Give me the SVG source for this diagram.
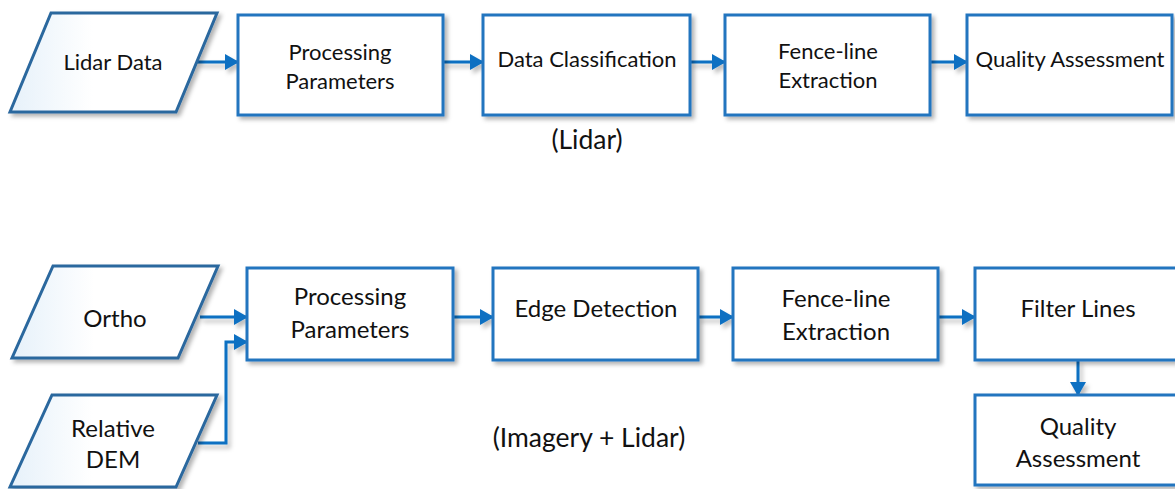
<svg xmlns="http://www.w3.org/2000/svg" width="1175" height="489" viewBox="0 0 1175 489">
  <style>
    .box { fill: #ffffff; stroke: #2474bf; stroke-width: 3; filter: url(#shadow); }
    .data { fill: url(#dataFill); stroke: #2b679e; stroke-width: 3; filter: url(#shadow); }
    .t { font-family: Lato, "Open Sans", sans-serif; fill: #111111; text-anchor: middle; }
    .s { font-size: 22px; }
    .m { font-size: 24px; }
    .lbl { font-size: 26.5px; }
    .conn { fill: none; stroke: #0b6fc2; stroke-width: 3; marker-end: url(#arrow); filter: url(#lineShadow); }
  </style>
  <defs>
    <linearGradient id="dataFill" x1="0" y1="0" x2="1" y2="0">
      <stop offset="0" stop-color="#e6f1fa"/>
      <stop offset="0.4" stop-color="#ffffff"/>
      <stop offset="1" stop-color="#ffffff"/>
    </linearGradient>
    <filter id="shadow" x="-10%" y="-10%" width="125%" height="130%">
      <feDropShadow dx="3" dy="3" stdDeviation="2" flood-color="#000000" flood-opacity="0.3"/>
    </filter>
    <!-- user-space region so that straight (zero-height) lines keep their shadow -->
    <filter id="lineShadow" filterUnits="userSpaceOnUse" x="0" y="0" width="1175" height="489">
      <feDropShadow dx="3" dy="4" stdDeviation="2" flood-color="#000000" flood-opacity="0.25"/>
    </filter>
    <marker id="arrow" markerUnits="userSpaceOnUse" markerWidth="14" markerHeight="16" refX="13" refY="8" orient="auto">
      <path d="M0,0 L14,8 L0,16 z" fill="#0b6fc2"/>
    </marker>
  </defs>

  <!-- Connectors -->
  <g id="connectors">
    <path class="conn" d="M197,62 H238"/>
    <path class="conn" d="M443,62 H483"/>
    <path class="conn" d="M690,62 H725"/>
    <path class="conn" d="M930,62 H967"/>
    <path class="conn" d="M200,317 H247"/>
    <path class="conn" d="M198,443 H226 V342 H247"/>
    <path class="conn" d="M453,317 H493"/>
    <path class="conn" d="M698,317 H733"/>
    <path class="conn" d="M938,317 H975"/>
    <path class="conn" d="M1078,360 V395"/>
  </g>

  <!-- Lidar workflow -->
  <g id="lidar-data">
    <polygon class="data" points="51,13 217,13 176,112 10,112"/>
    <text class="t s" x="113" y="70">Lidar Data</text>
  </g>
  <g id="lidar-processing">
    <rect class="box" x="238" y="15" width="205" height="100"/>
    <text class="t s" x="340" y="60">Processing</text>
    <text class="t s" x="340" y="89">Parameters</text>
  </g>
  <g id="lidar-classification">
    <rect class="box" x="483" y="15" width="207" height="100"/>
    <text class="t s" x="587" y="67">Data Classification</text>
  </g>
  <g id="lidar-extraction">
    <rect class="box" x="725" y="15" width="205" height="100"/>
    <text class="t s" x="828" y="59">Fence-line</text>
    <text class="t s" x="828" y="88">Extraction</text>
  </g>
  <g id="lidar-quality">
    <rect class="box" x="967" y="15" width="205" height="100"/>
    <text class="t s" x="1070" y="67">Quality Assessment</text>
  </g>
  <g id="label-lidar">
    <text class="t lbl" x="587" y="149">(Lidar)</text>
  </g>

  <!-- Imagery + Lidar workflow -->
  <g id="ortho">
    <polygon class="data" points="53,266 218,266 178,358 12,358"/>
    <text class="t m" x="115" y="327">Ortho</text>
  </g>
  <g id="relative-dem">
    <polygon class="data" points="52,395 217,395 176,487 10,487"/>
    <text class="t m" x="113" y="437">Relative</text>
    <text class="t m" x="113" y="468">DEM</text>
  </g>
  <g id="imagery-processing">
    <rect class="box" x="247" y="268" width="206" height="92"/>
    <text class="t m" x="350" y="305">Processing</text>
    <text class="t m" x="350" y="338">Parameters</text>
  </g>
  <g id="edge-detection">
    <rect class="box" x="493" y="268" width="205" height="92"/>
    <text class="t m" x="596" y="317">Edge Detection</text>
  </g>
  <g id="imagery-extraction">
    <rect class="box" x="733" y="268" width="205" height="92"/>
    <text class="t m" x="836" y="307">Fence-line</text>
    <text class="t m" x="836" y="340">Extraction</text>
  </g>
  <g id="filter-lines">
    <rect class="box" x="975" y="268" width="210" height="92"/>
    <text class="t m" x="1078" y="317">Filter Lines</text>
  </g>
  <g id="imagery-quality">
    <rect class="box" x="975" y="395" width="210" height="90"/>
    <text class="t m" x="1078" y="435">Quality</text>
    <text class="t m" x="1078" y="467">Assessment</text>
  </g>
  <g id="label-imagery-lidar">
    <text class="t lbl" x="589" y="447">(Imagery + Lidar)</text>
  </g>
</svg>
